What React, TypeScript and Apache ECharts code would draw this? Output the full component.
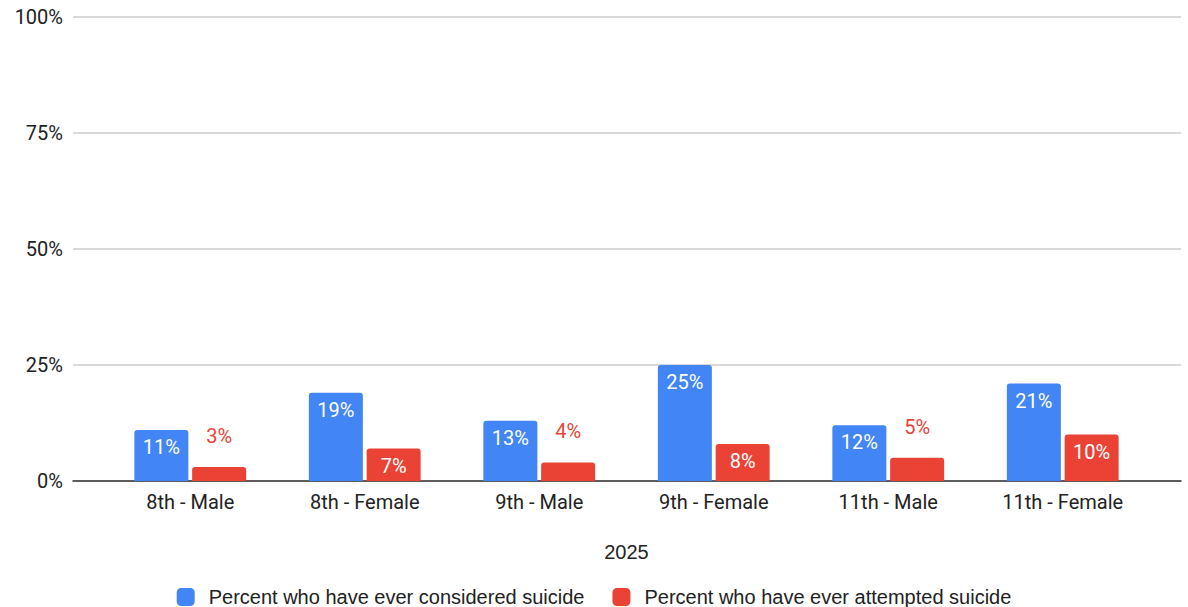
import React, { useEffect, useRef } from "react";
import * as echarts from "echarts";

const categories = ["8th - Male", "8th - Female", "9th - Male", "9th - Female", "11th - Male", "11th - Female"];
const considered = [11, 19, 13, 25, 12, 21];
const attempted = [3, 7, 4, 8, 5, 10];
const yTicks = [0, 25, 50, 75, 100];
const seriesNames = ["Percent who have ever considered suicide", "Percent who have ever attempted suicide"];
const xTitle = "2025";

const BLUE = "#4285F4";
const RED = "#EA4335";

export default function App() {
  const ref = useRef<HTMLDivElement>(null);
  useEffect(() => {
    if (!ref.current) return;
    const chart = echarts.init(ref.current, null, { renderer: "svg" });
    const top = 17;
    const bottom = 607 - 481;
    const labelFont = "Roboto";
    const arial = "Liberation Sans, Arial";
    chart.setOption({
      animation: false,
      textStyle: { fontFamily: "Roboto" },
      grid: [
        { left: 73, right: 7, top, bottom, containLabel: false },
        { left: 103, right: 38, top, bottom, containLabel: false },
      ],
      legend: {
        data: seriesNames,
        left: "center",
        top: 582,
        itemWidth: 18,
        itemHeight: 18,
        itemGap: 28,
        icon: "roundRect",
        textStyle: { fontFamily: arial, fontSize: 20, color: "#222", padding: [0, 0, 0, 9] },
      },
      xAxis: [
        {
          type: "category",
          gridIndex: 0,
          data: categories,
          show: true,
          axisLine: { show: true, lineStyle: { color: "#333", width: 1.5 } },
          axisTick: { show: false },
          axisLabel: { show: false },
          splitLine: { show: false },
        },
        {
          type: "category",
          gridIndex: 1,
          data: categories,
          axisLine: { show: false },
          axisTick: { show: false },
          axisLabel: { fontSize: 20, color: "#222", margin: 11, fontFamily: labelFont },
          name: xTitle,
          nameLocation: "middle",
          nameGap: 61,
          nameTextStyle: { fontSize: 20, color: "#222", fontFamily: arial },
        },
      ],
      yAxis: [
        {
          type: "value",
          gridIndex: 0,
          min: 0,
          max: 100,
          interval: 25,
          axisLine: { show: false },
          axisTick: { show: false },
          axisLabel: {
            formatter: (v: number) => (yTicks.includes(v) ? v + "%" : ""),
            fontSize: 20,
            color: "#222",
            margin: 10,
            fontFamily: labelFont,
          },
          splitLine: { lineStyle: { color: "#cccccc", width: 1.5 } },
        },
        {
          type: "value",
          gridIndex: 1,
          min: 0,
          max: 100,
          interval: 25,
          show: false,
          splitLine: { show: false },
        },
      ],
      series: [
        {
          name: seriesNames[0],
          type: "bar",
          xAxisIndex: 1,
          yAxisIndex: 1,
          barWidth: 54,
          barGap: "7%",
          itemStyle: { color: BLUE, borderRadius: [3, 3, 0, 0] },
          data: considered,
          label: {
            show: true,
            position: "insideTop",
            distance: 7,
            formatter: "{c}%",
            color: "#fff",
            fontSize: 20,
            fontFamily: labelFont,
          },
          z: 3,
        },
        {
          name: seriesNames[1],
          type: "bar",
          xAxisIndex: 1,
          yAxisIndex: 1,
          barWidth: 54,
          barGap: "7%",
          itemStyle: { color: RED, borderRadius: [3, 3, 0, 0] },
          data: attempted.map((v) =>
            v < 6
              ? {
                  value: v,
                  label: { position: "top", distance: 21, color: RED },
                }
              : { value: v }
          ),
          label: {
            show: true,
            position: "insideTop",
            distance: 7,
            formatter: "{c}%",
            color: "#fff",
            fontSize: 20,
            fontFamily: labelFont,
          },
          z: 3,
        },
      ],
    });
    return () => chart.dispose();
  }, []);
  return <div ref={ref} style={{ width: 1188, height: 607, position: "absolute", left: 0, top: 0 }} />;
}
